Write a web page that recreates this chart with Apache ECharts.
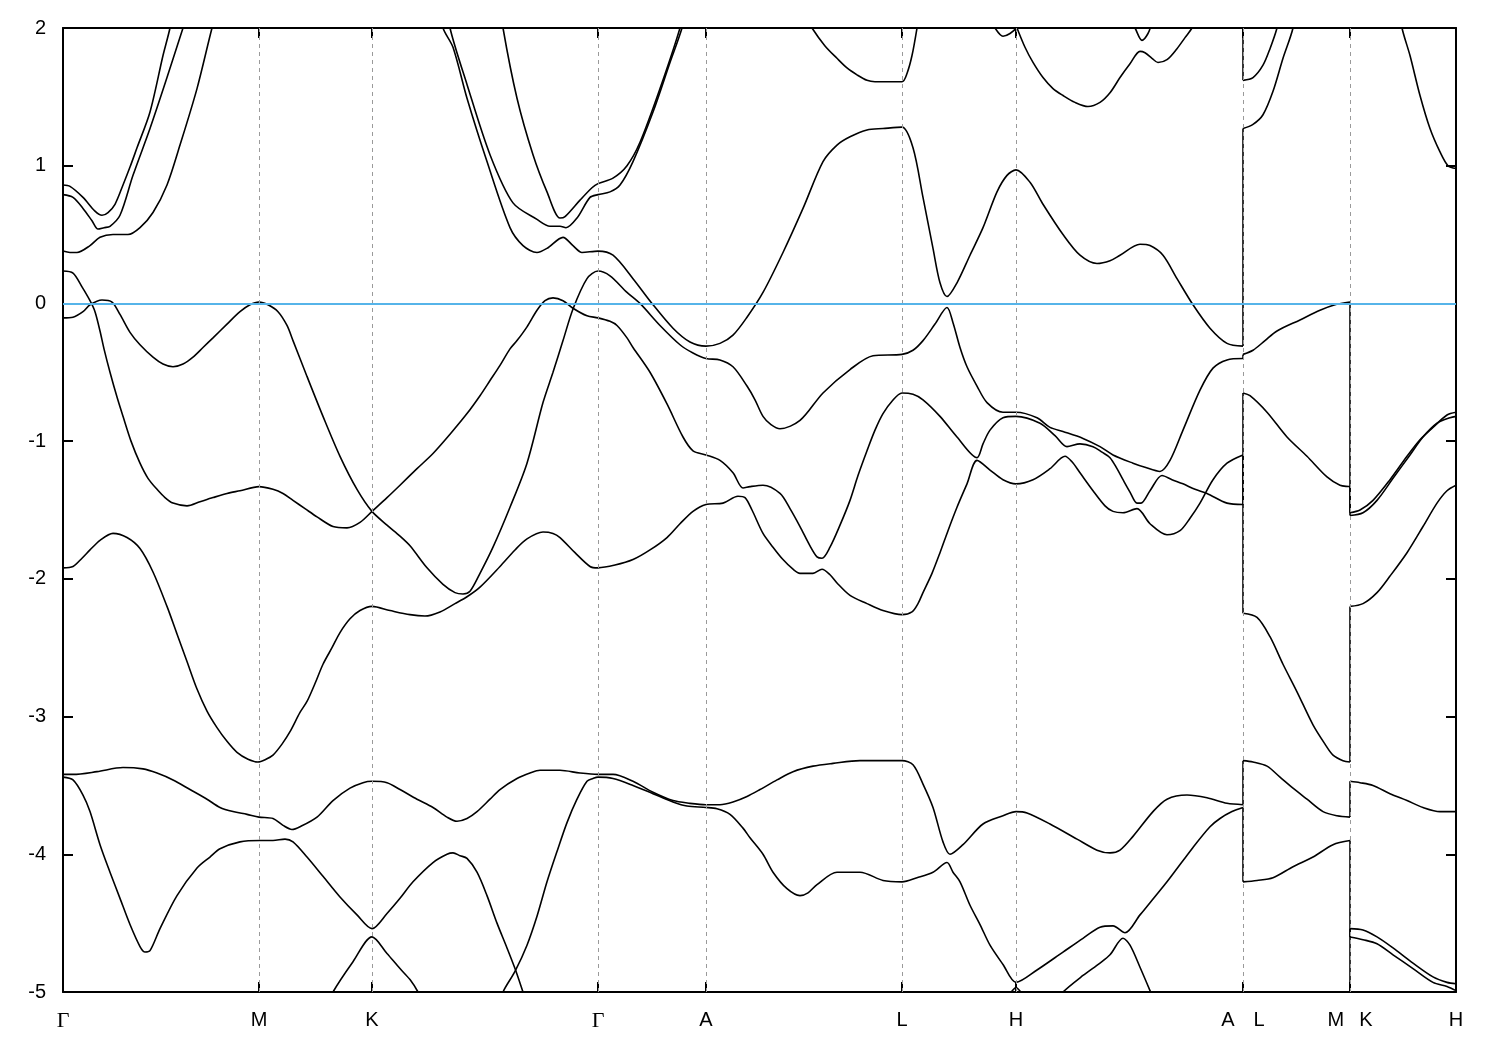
<!DOCTYPE html>
<html>
<head>
<meta charset="utf-8">
<script src="https://cdn.jsdelivr.net/npm/echarts@6/dist/echarts.min.js"></script>
<style>html,body{margin:0;padding:0;background:#fff}#chart{width:1500px;height:1050px}</style>
</head>
<body>
<div id="chart"></div>
<script>
// k-path positions of the high-symmetry points and their labels
const kTicks = [0, 196, 309, 535, 643, 839, 953, 1180, 1287, 1393];
const tickLabels = ['Γ', 'M', 'K', 'Γ', 'A', 'L', 'H', 'A L', 'M K', 'H'];
const yTicks = {min: -5, max: 2, step: 1};

// bands: [k, E (eV)]
const c1 = [[0,0.86],[7,0.85],[20,0.77],[32,0.67],[39,0.64],[45,0.66],[52,0.72],[60,0.86],[67,0.99],[74,1.13],[87,1.39],[100,1.8],[107,2.0],[112,2.2]];
const c2 = [[0,0.79],[10,0.77],[20,0.69],[29,0.6],[35,0.54],[41,0.55],[47,0.56],[57,0.64],[70,0.93],[87,1.27],[104,1.64],[120,2.0],[127,2.15]];
const c3 = [[0,0.38],[7,0.37],[14,0.37],[27,0.42],[37,0.48],[50,0.5],[65,0.5],[77,0.55],[90,0.66],[104,0.86],[117,1.15],[134,1.56],[149,2.0],[155,2.15]];
const c4 = [[375,2.2],[380,2.0],[390,1.86],[404,1.49],[424,1.03],[447,0.55],[460,0.42],[474,0.37],[484,0.4],[500,0.48],[510,0.42],[519,0.37],[535,0.38],[550,0.35],[570,0.18],[589,0.0],[610,-0.18],[627,-0.28],[643,-0.31],[657,-0.29],[670,-0.23],[684,-0.1],[700,0.08],[720,0.37],[740,0.69],[760,1.03],[774,1.15],[787,1.21],[804,1.26],[820,1.27],[839,1.28],[850,1.13],[860,0.77],[870,0.4],[877,0.15],[884,0.05],[894,0.15],[907,0.35],[920,0.55],[934,0.81],[944,0.93],[953,0.97],[967,0.88],[980,0.72],[1000,0.5],[1017,0.35],[1034,0.29],[1047,0.31],[1057,0.35],[1077,0.43],[1087,0.42],[1100,0.35],[1114,0.18],[1130,-0.01],[1147,-0.18],[1164,-0.29],[1180,-0.31],[1180,1.27],[1190,1.3],[1200,1.37],[1210,1.54],[1220,1.78],[1230,2.0],[1237,2.3],[1287,2.8],[1332,2.3],[1339,2.0],[1347,1.8],[1357,1.51],[1367,1.27],[1377,1.1],[1385,1.0],[1393,0.98]];
const c5 = [[437,2.2],[440,2.0],[454,1.49],[470,1.08],[484,0.81],[497,0.62],[502,0.63],[517,0.75],[529,0.84],[535,0.87],[550,0.91],[564,1.0],[577,1.17],[597,1.56],[617,2.0],[621,2.15]];
const c6 = [[384,2.2],[387,2.0],[404,1.59],[427,1.08],[450,0.73],[474,0.61],[487,0.56],[497,0.56],[503,0.55],[514,0.62],[527,0.77],[535,0.79],[547,0.81],[557,0.86],[570,1.03],[590,1.39],[607,1.75],[619,2.0],[623,2.15]];
const bandP = [[0,-0.105],[10,-0.1],[20,-0.06],[27,-0.01],[39,0.025],[49,0.01],[57,-0.08],[67,-0.21],[77,-0.3],[90,-0.39],[100,-0.44],[110,-0.46],[120,-0.44],[130,-0.39],[140,-0.32],[150,-0.25],[164,-0.15],[177,-0.06],[187,-0.01],[196,0.01],[205,-0.01],[215,-0.06],[224,-0.16],[230,-0.27],[244,-0.53],[260,-0.82],[277,-1.11],[294,-1.35],[309,-1.51],[324,-1.61],[337,-1.69],[347,-1.76],[364,-1.92],[380,-2.04],[392,-2.1],[400,-2.11],[407,-2.09],[417,-1.96],[430,-1.77],[447,-1.48],[464,-1.16],[480,-0.72],[490,-0.5],[500,-0.27],[510,-0.04],[524,0.18],[535,0.235],[547,0.2],[564,0.08],[577,0.0],[597,-0.16],[617,-0.3],[630,-0.36],[643,-0.4],[657,-0.41],[670,-0.46],[684,-0.6],[692,-0.7],[700,-0.82],[708,-0.88],[717,-0.91],[737,-0.85],[760,-0.65],[787,-0.48],[810,-0.38],[839,-0.37],[850,-0.34],[860,-0.27],[872,-0.15],[884,-0.03],[890,-0.14],[897,-0.32],[904,-0.46],[914,-0.6],[924,-0.72],[940,-0.79],[953,-0.79],[974,-0.83],[987,-0.9],[1000,-0.93],[1020,-0.98],[1037,-1.04],[1050,-1.1],[1070,-1.16],[1082,-1.19],[1097,-1.22],[1107,-1.14],[1120,-0.92],[1137,-0.63],[1150,-0.47],[1164,-0.41],[1180,-0.4],[1180,-0.37],[1190,-0.34],[1202,-0.27],[1214,-0.2],[1237,-0.12],[1257,-0.05],[1272,-0.01],[1287,0.01],[1287,-1.52],[1297,-1.5],[1310,-1.43],[1327,-1.28],[1344,-1.11],[1357,-0.99],[1370,-0.9],[1384,-0.81],[1393,-0.79]];
const bandQ = [[0,0.235],[10,0.22],[19,0.12],[27,0.02],[32,-0.06],[37,-0.2],[41,-0.33],[47,-0.5],[54,-0.68],[60,-0.82],[68,-1.0],[77,-1.16],[85,-1.27],[94,-1.35],[102,-1.41],[110,-1.45],[124,-1.47],[137,-1.44],[150,-1.41],[164,-1.38],[177,-1.36],[196,-1.33],[210,-1.35],[220,-1.38],[230,-1.43],[242,-1.49],[254,-1.55],[270,-1.62],[284,-1.63],[297,-1.59],[309,-1.51],[324,-1.41],[337,-1.32],[354,-1.2],[370,-1.09],[387,-0.95],[404,-0.8],[417,-0.67],[427,-0.56],[437,-0.45],[447,-0.33],[454,-0.27],[464,-0.17],[474,-0.05],[482,0.02],[490,0.04],[500,0.02],[510,-0.035],[524,-0.09],[535,-0.105],[547,-0.13],[554,-0.16],[564,-0.25],[570,-0.32],[587,-0.5],[604,-0.73],[620,-0.97],[630,-1.07],[643,-1.1],[657,-1.14],[670,-1.23],[680,-1.34],[687,-1.33],[700,-1.32],[717,-1.38],[727,-1.49],[737,-1.62],[747,-1.76],[754,-1.84],[759,-1.85],[767,-1.77],[777,-1.61],[787,-1.43],[795,-1.25],[804,-1.07],[812,-0.92],[820,-0.8],[829,-0.71],[839,-0.65],[850,-0.66],[860,-0.7],[877,-0.82],[894,-0.97],[914,-1.12],[920,-1.02],[927,-0.92],[940,-0.83],[953,-0.82],[977,-0.87],[992,-0.96],[1004,-1.04],[1017,-1.02],[1030,-1.04],[1039,-1.08],[1047,-1.12],[1054,-1.2],[1060,-1.28],[1067,-1.37],[1074,-1.45],[1078,-1.45],[1087,-1.36],[1099,-1.25],[1109,-1.28],[1120,-1.31],[1132,-1.35],[1144,-1.38],[1164,-1.45],[1180,-1.46],[1180,-0.65],[1187,-0.67],[1204,-0.79],[1224,-0.97],[1244,-1.11],[1264,-1.26],[1277,-1.32],[1287,-1.33],[1287,-1.54],[1300,-1.52],[1314,-1.43],[1330,-1.27],[1347,-1.1],[1360,-0.97],[1374,-0.87],[1387,-0.83],[1393,-0.82]];
const bandR = [[0,-1.92],[10,-1.91],[19,-1.85],[27,-1.79],[37,-1.72],[50,-1.67],[64,-1.7],[77,-1.78],[90,-1.95],[104,-2.2],[114,-2.4],[124,-2.6],[134,-2.8],[144,-2.96],[154,-3.08],[164,-3.18],[174,-3.26],[185,-3.31],[195,-3.33],[203,-3.31],[210,-3.28],[219,-3.2],[227,-3.11],[237,-2.97],[244,-2.89],[252,-2.76],[260,-2.62],[269,-2.5],[277,-2.39],[287,-2.29],[297,-2.23],[309,-2.2],[327,-2.23],[347,-2.26],[362,-2.27],[377,-2.24],[392,-2.18],[404,-2.13],[417,-2.06],[437,-1.91],[452,-1.79],[464,-1.71],[480,-1.66],[490,-1.67],[497,-1.7],[512,-1.81],[527,-1.91],[535,-1.92],[552,-1.9],[570,-1.86],[587,-1.79],[604,-1.7],[617,-1.6],[630,-1.51],[643,-1.46],[660,-1.45],[675,-1.4],[682,-1.41],[689,-1.5],[700,-1.67],[710,-1.77],[720,-1.86],[730,-1.93],[737,-1.96],[750,-1.96],[759,-1.93],[767,-1.97],[774,-2.03],[787,-2.12],[804,-2.18],[820,-2.23],[839,-2.26],[849,-2.24],[855,-2.18],[860,-2.1],[869,-1.96],[877,-1.81],[885,-1.65],[894,-1.48],[904,-1.31],[914,-1.14],[927,-1.21],[940,-1.28],[953,-1.31],[970,-1.28],[987,-1.2],[1002,-1.11],[1009,-1.15],[1017,-1.23],[1030,-1.36],[1042,-1.47],[1050,-1.51],[1060,-1.52],[1074,-1.49],[1087,-1.6],[1104,-1.68],[1117,-1.65],[1127,-1.56],[1137,-1.45],[1150,-1.28],[1164,-1.16],[1180,-1.1],[1180,-2.25],[1194,-2.28],[1207,-2.42],[1220,-2.62],[1234,-2.82],[1250,-3.06],[1262,-3.2],[1270,-3.28],[1280,-3.32],[1287,-3.33],[1287,-2.2],[1300,-2.18],[1314,-2.1],[1327,-1.98],[1344,-1.81],[1360,-1.62],[1374,-1.45],[1384,-1.36],[1393,-1.32]];
const bandS = [[0,-3.42],[10,-3.42],[34,-3.4],[60,-3.37],[80,-3.38],[94,-3.41],[110,-3.46],[127,-3.53],[144,-3.6],[157,-3.66],[170,-3.69],[184,-3.71],[196,-3.73],[210,-3.74],[220,-3.79],[229,-3.82],[237,-3.8],[254,-3.73],[270,-3.61],[287,-3.52],[300,-3.48],[309,-3.47],[324,-3.48],[337,-3.53],[354,-3.6],[370,-3.66],[384,-3.73],[394,-3.76],[404,-3.74],[414,-3.69],[427,-3.6],[437,-3.53],[454,-3.45],[467,-3.41],[477,-3.39],[497,-3.39],[517,-3.41],[535,-3.42],[550,-3.42],[570,-3.47],[590,-3.55],[610,-3.61],[627,-3.63],[643,-3.64],[657,-3.64],[670,-3.62],[684,-3.58],[697,-3.53],[714,-3.46],[730,-3.4],[750,-3.36],[770,-3.34],[797,-3.32],[839,-3.32],[850,-3.35],[860,-3.49],[870,-3.66],[880,-3.91],[887,-4.0],[900,-3.93],[920,-3.78],[940,-3.72],[953,-3.69],[964,-3.7],[987,-3.78],[1014,-3.89],[1034,-3.97],[1047,-3.99],[1057,-3.97],[1070,-3.87],[1090,-3.69],[1104,-3.6],[1124,-3.57],[1144,-3.59],[1164,-3.63],[1180,-3.64],[1180,-3.32],[1190,-3.33],[1204,-3.36],[1217,-3.44],[1230,-3.52],[1244,-3.6],[1260,-3.69],[1274,-3.72],[1287,-3.73],[1287,-3.47],[1297,-3.48],[1310,-3.5],[1327,-3.56],[1344,-3.61],[1360,-3.66],[1377,-3.69],[1393,-3.69]];
const bandT = [[0,-3.44],[10,-3.46],[20,-3.57],[27,-3.69],[37,-3.93],[47,-4.13],[57,-4.32],[67,-4.51],[77,-4.67],[82,-4.71],[87,-4.7],[97,-4.54],[114,-4.3],[134,-4.1],[147,-4.02],[157,-3.96],[177,-3.91],[197,-3.9],[210,-3.9],[222,-3.89],[230,-3.91],[244,-4.02],[260,-4.16],[277,-4.31],[294,-4.44],[309,-4.54],[324,-4.43],[337,-4.32],[350,-4.2],[370,-4.06],[384,-4.0],[390,-3.99],[397,-4.01],[404,-4.03],[414,-4.13],[424,-4.3],[434,-4.5],[444,-4.68],[452,-4.83],[460,-5.0],[467,-5.15]];
const bandT2 = [[434,-5.15],[440,-5.0],[452,-4.85],[464,-4.66],[474,-4.45],[484,-4.2],[494,-3.98],[504,-3.77],[514,-3.6],[524,-3.47],[530,-3.45],[535,-3.44],[550,-3.45],[570,-3.5],[590,-3.56],[610,-3.62],[624,-3.65],[643,-3.66],[654,-3.67],[667,-3.71],[680,-3.81],[687,-3.88],[700,-4.0],[710,-4.13],[724,-4.25],[737,-4.3],[745,-4.28],[754,-4.22],[774,-4.13],[797,-4.13],[820,-4.19],[839,-4.2],[854,-4.17],[870,-4.13],[884,-4.06],[890,-4.13],[897,-4.2],[907,-4.37],[917,-4.51],[927,-4.66],[940,-4.8],[953,-4.93],[974,-4.84],[1000,-4.71],[1020,-4.61],[1037,-4.53],[1050,-4.52],[1062,-4.57],[1077,-4.44],[1104,-4.2],[1130,-3.95],[1147,-3.8],[1157,-3.74],[1169,-3.69],[1180,-3.66],[1180,-4.2],[1194,-4.19],[1210,-4.17],[1230,-4.09],[1250,-4.02],[1270,-3.93],[1287,-3.9],[1287,-4.6],[1300,-4.62],[1314,-4.65],[1330,-4.73],[1350,-4.83],[1370,-4.93],[1384,-4.96],[1393,-4.99]];
const bandT3 = [[265,-5.1],[270,-5.0],[290,-4.78],[309,-4.6],[324,-4.72],[337,-4.83],[347,-4.91],[355,-5.0],[360,-5.08]];
const bandT4 = [[992,-5.08],[1000,-5.0],[1020,-4.88],[1037,-4.79],[1047,-4.73],[1060,-4.61],[1067,-4.66],[1077,-4.82],[1087,-4.99],[1092,-5.08]];
const bandT5 = [[1287,-5.4],[1287,-4.54],[1300,-4.55],[1314,-4.6],[1330,-4.68],[1350,-4.79],[1370,-4.89],[1384,-4.93],[1393,-4.94]];
const bandT6 = [[942,-5.08],[953,-4.97],[964,-5.08]];
const bandW1 = [[737,2.15],[749,2.0],[762,1.87],[774,1.78],[784,1.71],[794,1.66],[804,1.62],[812,1.61],[839,1.61],[844,1.67],[849,1.8],[854,2.0],[857,2.15]];
const bandW2 = [[927,2.08],[932,2.0],[940,1.94],[947,1.96],[953,2.0],[956,2.08]];
const bandW3 = [[949,2.1],[954,2.0],[962,1.86],[970,1.75],[980,1.64],[990,1.56],[1000,1.51],[1012,1.46],[1025,1.43],[1037,1.46],[1047,1.53],[1057,1.64],[1067,1.74],[1077,1.83],[1082,1.82],[1089,1.78],[1095,1.75],[1104,1.77],[1114,1.85],[1122,1.93],[1129,2.0],[1134,2.08]];
const bandW4 = [[1067,2.06],[1072,2.0],[1079,1.91],[1085,1.96],[1089,2.04]];
const bandW5 = [[1180,2.4],[1180,1.62],[1190,1.64],[1200,1.73],[1207,1.85],[1214,2.0],[1218,2.15]];

const bands = [c1, c2, c3, c4, c5, c6, bandP, bandQ, bandR, bandS, bandT, bandT2, bandT3, bandT4, bandT5, bandT6, bandW1, bandW2, bandW3, bandW4, bandW5];

const series = [];
function pushLine(d, smooth) {
  if (d.length < 2) return;
  series.push({
    type: 'line', data: d, smooth: smooth ? 0.3 : false, symbol: 'none', showSymbol: false,
    lineStyle: {color: '#000', width: 1.6}, silent: true, clip: true, z: 3, animation: false
  });
}
bands.forEach(b => {
  let piece = [b[0]];
  for (let i = 1; i < b.length; i++) {
    if (b[i][0] === b[i - 1][0]) {
      pushLine(piece, true);
      pushLine([b[i - 1], b[i]], false);
      piece = [b[i]];
    } else {
      piece.push(b[i]);
    }
  }
  pushLine(piece, true);
});

// dashed vertical lines at the inner high-symmetry points
series.push({
  type: 'line', data: [[0, -6]], symbol: 'none', silent: true, z: 1, animation: false,
  markLine: {
    symbol: 'none', silent: true, animation: false, label: {show: false},
    lineStyle: {type: [4, 4], color: '#9a9a9a', width: 1},
    data: kTicks.slice(1, -1).map(k => ({xAxis: k}))
  }
});
// Fermi level
series.push({
  type: 'line', data: [[0, -6]], symbol: 'none', silent: true, z: 6, animation: false,
  markLine: {
    symbol: 'none', silent: true, animation: false, label: {show: false},
    lineStyle: {type: 'solid', color: '#56b4e9', width: 2},
    data: [{yAxis: 0}]
  }
});

const frame = {show: true, onZero: false, lineStyle: {color: '#000', width: 2}};
const tickStyle = {color: '#000', width: 2};
const font = 'Liberation Sans';

function xLabel(v) {
  const i = kTicks.indexOf(v);
  if (i < 0) return '';
  const s = tickLabels[i];
  if (s === 'Γ') return '{g|Γ}';
  if (s.indexOf(' ') > 0) {
    const p = s.split(' ');
    const gap = p[0] === 'A' ? 'gA' : 'gM';
    return '{n|' + p[0] + '}{' + gap + '| }{n|' + p[1] + '}';
  }
  return '{n|' + s + '}';
}

const option = {
  animation: false,
  backgroundColor: '#fff',
  grid: {left: 63, right: 44, top: 28, bottom: 58, containLabel: false},
  xAxis: [
    {
      type: 'value', min: kTicks[0], max: kTicks[kTicks.length - 1], position: 'bottom',
      axisLine: frame,
      axisTick: {show: true, inside: true, length: 10, customValues: kTicks, lineStyle: tickStyle},
      axisLabel: {
        show: true, customValues: kTicks, margin: 18, formatter: xLabel,
        rich: {
          n: {fontFamily: font, fontSize: 20, color: '#000'},
          g: {fontFamily: 'Liberation Serif', fontSize: 22, color: '#000'},
          gA: {width: 19, fontSize: 20},
          gM: {width: 15, fontSize: 20}
        }
      },
      splitLine: {show: false}
    },
    {
      type: 'value', min: kTicks[0], max: kTicks[kTicks.length - 1], position: 'top',
      axisLine: frame,
      axisTick: {show: true, inside: true, length: 10, customValues: kTicks, lineStyle: tickStyle},
      axisLabel: {show: false},
      splitLine: {show: false}
    }
  ],
  yAxis: [
    {
      type: 'value', min: yTicks.min, max: yTicks.max, interval: yTicks.step, position: 'left',
      axisLine: frame,
      axisTick: {show: true, inside: true, length: 10, lineStyle: tickStyle},
      axisLabel: {show: true, margin: 17, fontFamily: font, fontSize: 20, color: '#000'},
      splitLine: {show: false}
    },
    {
      type: 'value', min: yTicks.min, max: yTicks.max, interval: yTicks.step, position: 'right',
      axisLine: frame,
      axisTick: {show: true, inside: true, length: 10, lineStyle: tickStyle},
      axisLabel: {show: false},
      splitLine: {show: false}
    }
  ],
  series: series
};

const chart = echarts.init(document.getElementById('chart'), null, {renderer: 'canvas'});
chart.setOption(option);
</script>
</body>
</html>
